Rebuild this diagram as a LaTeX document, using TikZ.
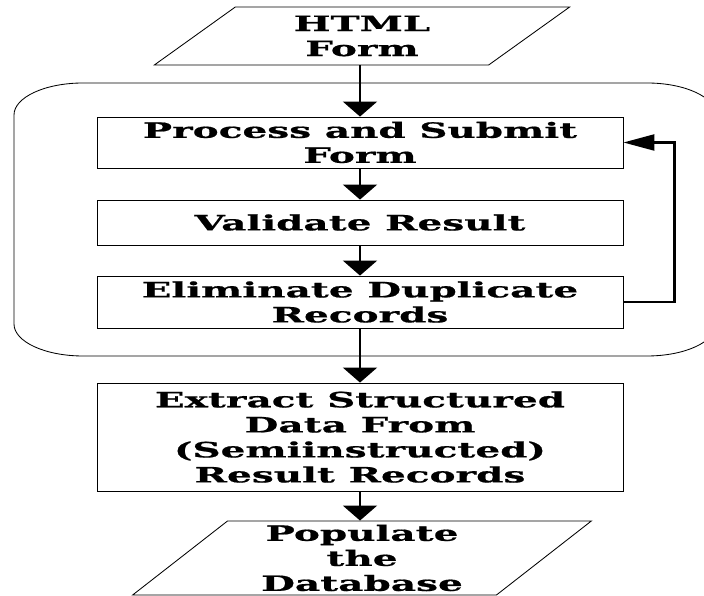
\documentclass[tikz,border=0pt]{standalone}
\usepackage{fontspec}
\setmainfont{DejaVu Serif}[FakeStretch=1.85, BoldFeatures={FakeBold=0.8}]
\usetikzlibrary{shapes.geometric, arrows.meta}

\begin{document}
\begin{tikzpicture}[x=0.25mm, y=0.25mm,
    font=\fontsize{15pt}{17.8pt}\selectfont\bfseries,
    box/.style = {draw, line width=0.6pt, minimum width=131.5mm, align=center, inner sep=0pt},
    io/.style = {draw, trapezium, trapezium left angle=43, trapezium right angle=137,
                 trapezium stretches=true, line width=0.6pt, align=center, inner sep=0pt},
    flow/.style = {-{Triangle[width=8.5mm, length=3.75mm]}, line width=1.6pt},
    back/.style = {-{Triangle[width=4mm, length=7.75mm]}, line width=1.6pt}]
    \useasboundingbox (0,0) rectangle (704,596);

    \node[io, minimum width=104mm, minimum height=14.5mm] at (362, 560) (html) {HTML\\Form};

    % loop of the crawler
    \draw[line width=0.6pt] (83,513) -- (647,513)
        arc[start angle=90, end angle=0, x radius=17.25mm, y radius=8mm] -- (716,272)
        arc[start angle=0, end angle=-90, x radius=17.25mm, y radius=8mm] -- (83,240)
        arc[start angle=270, end angle=180, x radius=17.25mm, y radius=8mm] -- (14,481)
        arc[start angle=180, end angle=90, x radius=17.25mm, y radius=8mm] -- cycle;

    \node[box, minimum height=12.75mm] at (360, 453.5) (proc) {Process and Submit\\Form};
    \node[box, minimum height=11.25mm] at (360, 373.5) (valid) {Validate Result};
    \node[box, minimum height=13mm] at (360, 294) (elim) {Eliminate Duplicate\\Records};
    \node[box, minimum height=27mm] at (360, 159) (extract) {Extract Structured\\Data From\\(Semiinstructed)\\Result Records};
    \node[io, minimum width=115mm, minimum height=18.5mm] at (362, 38) (pop) {Populate\\the\\Database};

    \draw[flow] (html.south -| proc.north) -- (proc);
    \draw[flow] (proc) -- (valid);
    \draw[flow] (valid) -- (elim);
    \draw[flow] (elim) -- (extract);
    \draw[flow] (extract) -- (pop.north -| extract.south);

    \draw[back] (elim.east) -- ++(51,0) |- (proc.east);
\end{tikzpicture}
\end{document}
